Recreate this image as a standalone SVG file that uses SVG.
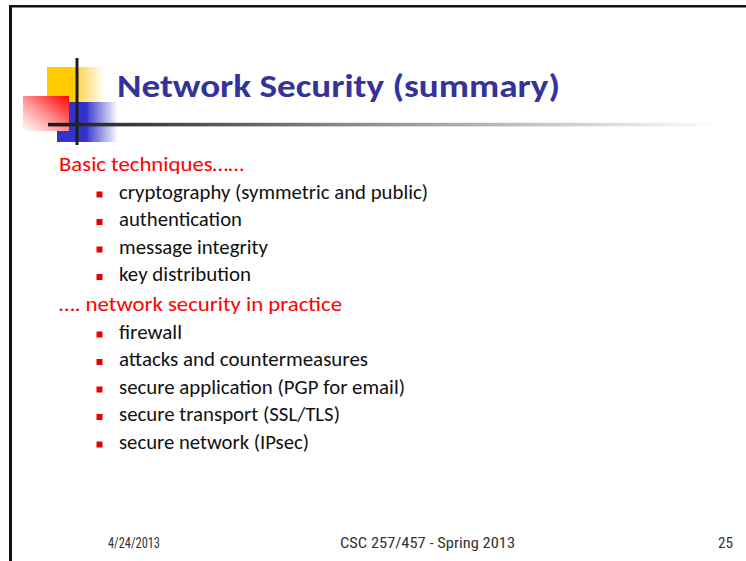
<svg xmlns="http://www.w3.org/2000/svg" width="746" height="561" viewBox="0 0 746 561">
  <style>
    .title { font-family: Carlito, Lato, "Open Sans", sans-serif; font-weight: bold; font-size: 33px; fill: #333399; }
    .head { font-family: Carlito, Lato, "Open Sans", sans-serif; font-size: 20.5px; fill: #FF0000; }
    .item { font-family: Carlito, Lato, "Open Sans", sans-serif; font-size: 20.5px; fill: #111111; }
    .bullet { fill: #EE0000; }
    .foot { font-family: "Liberation Sans Narrow", "Roboto Condensed", "Liberation Sans", sans-serif; font-size: 14px; fill: #333333; }
  </style>
  <defs>
    <linearGradient id="yellowFade" x1="0" y1="0" x2="1" y2="0">
      <stop offset="0" stop-color="#FFCC00"/>
      <stop offset="0.52" stop-color="#FFCC00"/>
      <stop offset="0.55" stop-color="#FFD65A"/>
      <stop offset="1" stop-color="#FFFFFF"/>
    </linearGradient>
    <linearGradient id="blueFade" x1="0" y1="0" x2="1" y2="0">
      <stop offset="0" stop-color="#3333CC"/>
      <stop offset="0.49" stop-color="#3333CC"/>
      <stop offset="0.52" stop-color="#4A4AD2"/>
      <stop offset="1" stop-color="#FFFFFF"/>
    </linearGradient>
    <linearGradient id="redFade" x1="1" y1="0" x2="0" y2="1">
      <stop offset="0" stop-color="#FF0000"/>
      <stop offset="0.55" stop-color="#FF9A9A"/>
      <stop offset="1" stop-color="#FFFFFF"/>
    </linearGradient>
    <linearGradient id="ruleFade" x1="48" y1="0" x2="720" y2="0" gradientUnits="userSpaceOnUse">
      <stop offset="0" stop-color="#1A1A1A"/>
      <stop offset="0.45" stop-color="#8A8A8A"/>
      <stop offset="1" stop-color="#FFFFFF"/>
    </linearGradient>
  </defs>

  <rect width="746" height="561" fill="#FFFFFF"/>

  <!-- slide frame: top and left edges -->
  <g id="frame" stroke="#111111" fill="none">
    <line x1="9" y1="6.2" x2="746" y2="6.2" stroke-width="2.6"/>
    <line x1="10.5" y1="5" x2="10.5" y2="561" stroke-width="3"/>
  </g>

  <!-- corner ornament -->
  <g id="ornament">
    <rect x="47" y="67" width="58" height="35" fill="url(#yellowFade)"/>
    <rect x="57" y="102" width="61" height="40" fill="url(#blueFade)"/>
    <rect x="23" y="96" width="46" height="35" fill="url(#redFade)"/>
    <rect x="75.5" y="58" width="3" height="87" fill="#1E1E1E"/>
    <rect x="48" y="122.8" width="672" height="3.6" fill="url(#ruleFade)"/>
  </g>

  <g id="title">
    <text class="title" x="117" y="96.5" textLength="443" lengthAdjust="spacingAndGlyphs">Network Security (summary)</text>
  </g>

  <g id="basic-techniques">
    <text class="head" x="59" y="170.5" textLength="185" lengthAdjust="spacingAndGlyphs">Basic techniques……</text>
    <rect class="bullet" x="96.5" y="191.5" width="6" height="6"/>
    <text class="item" x="119" y="198.5" textLength="309" lengthAdjust="spacingAndGlyphs">cryptography (symmetric and public)</text>
    <rect class="bullet" x="96.5" y="219" width="6" height="6"/>
    <text class="item" x="119" y="226" textLength="123" lengthAdjust="spacingAndGlyphs">authentication</text>
    <rect class="bullet" x="96.5" y="246.5" width="6" height="6"/>
    <text class="item" x="119" y="253.5" textLength="149" lengthAdjust="spacingAndGlyphs">message integrity</text>
    <rect class="bullet" x="96.5" y="274" width="6" height="6"/>
    <text class="item" x="119" y="281" textLength="132" lengthAdjust="spacingAndGlyphs">key distribution</text>
  </g>

  <g id="in-practice">
    <text class="head" x="59" y="311" textLength="283" lengthAdjust="spacingAndGlyphs">…. network security in practice</text>
    <rect class="bullet" x="96.5" y="331.5" width="6" height="6"/>
    <text class="item" x="119" y="338.5" textLength="63" lengthAdjust="spacingAndGlyphs">firewall</text>
    <rect class="bullet" x="96.5" y="359" width="6" height="6"/>
    <text class="item" x="119" y="366" textLength="249" lengthAdjust="spacingAndGlyphs">attacks and countermeasures</text>
    <rect class="bullet" x="96.5" y="386.5" width="6" height="6"/>
    <text class="item" x="119" y="393.5" textLength="286" lengthAdjust="spacingAndGlyphs">secure application (PGP for email)</text>
    <rect class="bullet" x="96.5" y="414" width="6" height="6"/>
    <text class="item" x="119" y="421" textLength="221" lengthAdjust="spacingAndGlyphs">secure transport (SSL/TLS)</text>
    <rect class="bullet" x="96.5" y="441.5" width="6" height="6"/>
    <text class="item" x="119" y="448.5" textLength="190" lengthAdjust="spacingAndGlyphs">secure network (IPsec)</text>
  </g>

  <g id="footer">
    <text class="foot" x="108" y="548" textLength="52" lengthAdjust="spacingAndGlyphs">4/24/2013</text>
    <text class="foot" x="340" y="548" textLength="175" lengthAdjust="spacingAndGlyphs">CSC 257/457 - Spring 2013</text>
    <text class="foot" x="718" y="548" textLength="15" lengthAdjust="spacingAndGlyphs">25</text>
  </g>
</svg>
